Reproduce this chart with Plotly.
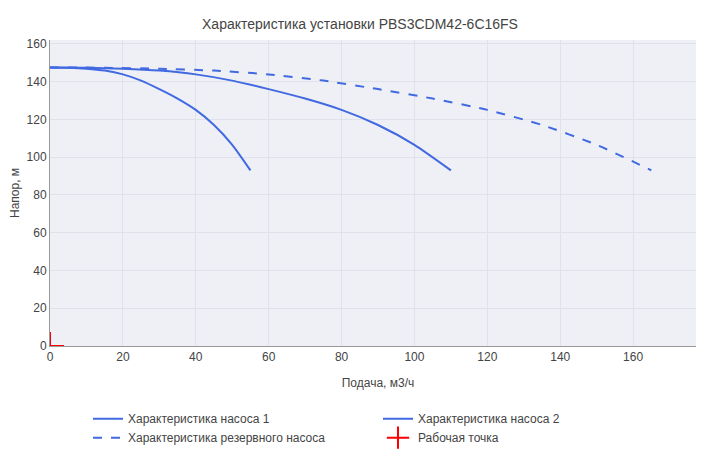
import plotly.graph_objects as go

q1 = [0, 5, 10, 15, 20, 25, 30, 35, 40, 45, 50, 55]
h = [147.5, 147.3, 146.8, 145.8, 143.8, 140.5, 136, 131, 125, 117, 106.5, 93]
q2 = [v * 2 for v in q1]
q3 = [v * 3 for v in q1]
wp_q = [0]
wp_h = [0]

fig = go.Figure()
fig.add_trace(go.Scatter(x=q1, y=h, mode="lines", line=dict(color="royalblue", width=2, shape="spline", smoothing=0.6), name="Характеристика насоса 1"))
fig.add_trace(go.Scatter(x=q2, y=h, mode="lines", line=dict(color="royalblue", width=2, shape="spline", smoothing=0.6), name="Характеристика насоса 2"))
fig.add_trace(go.Scatter(x=q3, y=h, mode="lines", line=dict(color="royalblue", width=2, dash="dash", shape="spline", smoothing=0.6), name="Характеристика резервного насоса"))
fig.add_trace(go.Scatter(x=wp_q, y=wp_h, mode="markers", marker=dict(symbol="cross-thin-open", size=20, color="red", line=dict(color="red", width=2)), name="Рабочая точка"))

fig.update_layout(
    width=704, height=450,
    font=dict(family="Arial, Liberation Sans, sans-serif", size=12, color="#444"),
    title=dict(text="Характеристика установки PBS3CDM42-6C16FS", x=0.5, y=0.975, font=dict(size=14)),
    margin=dict(l=40, r=6, t=32, b=105),
    plot_bgcolor="#eef0f5",
    paper_bgcolor="white",
    legend=dict(orientation="h", x=0.5, xanchor="center", y=-0.19, yanchor="top", entrywidth=245),
    xaxis=dict(title=dict(text="Подача, м3/ч", font=dict(size=12)), range=[0, 180], dtick=20, showline=True, linecolor="#999", gridcolor="#dfe2ea", zeroline=False),
    yaxis=dict(title=dict(text="Напор, м", font=dict(size=12), standoff=4), range=[0, 162], dtick=20, showline=True, linecolor="#999", gridcolor="#dfe2ea", zeroline=False),
)
fig.write_html("out.html")
